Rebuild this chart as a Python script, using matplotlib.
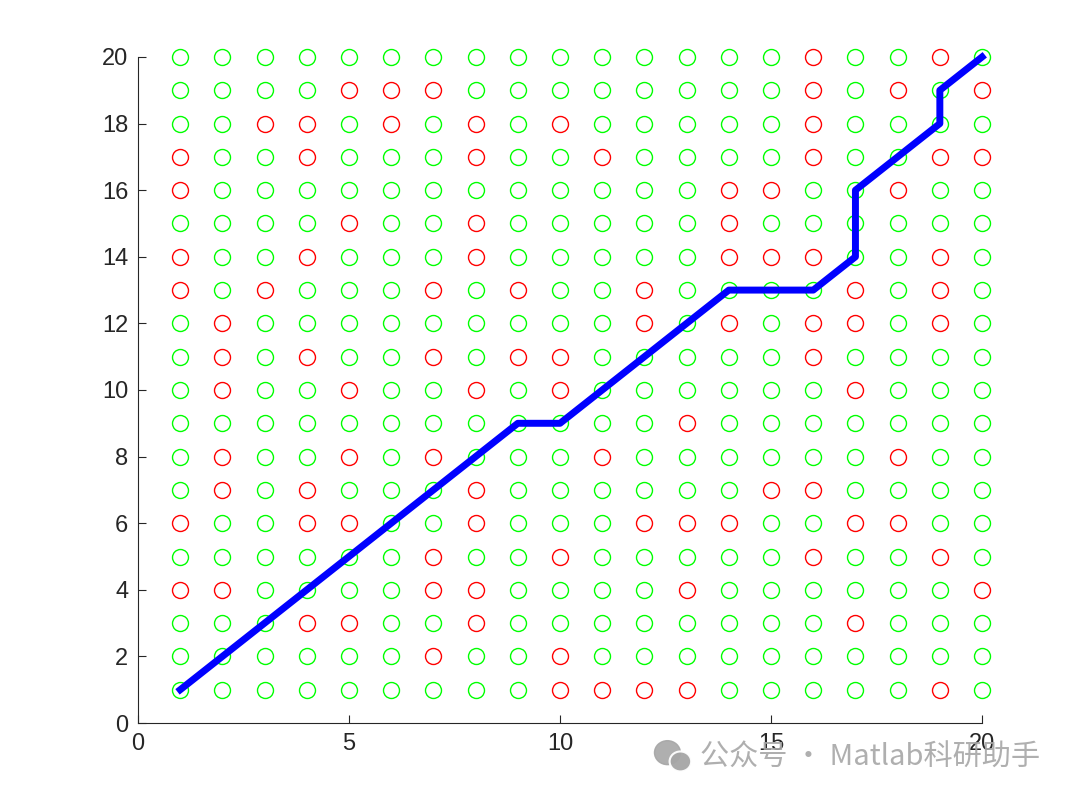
import numpy as np
import matplotlib
matplotlib.use("Agg")
import matplotlib.pyplot as plt
from matplotlib.patches import Ellipse

plt.rcParams['font.family'] = ['Liberation Sans', 'DejaVu Sans']

n = 20
# red (blocked) cells: x positions listed per row y
red_by_row = {
    20: [16, 19],
    19: [5, 6, 7, 16, 18, 20],
    18: [3, 4, 6, 8, 10, 16],
    17: [1, 4, 8, 11, 16, 19, 20],
    16: [1, 14, 15, 18],
    15: [5, 8, 14],
    14: [1, 4, 8, 14, 15, 16, 19],
    13: [1, 3, 7, 9, 12, 17, 19],
    12: [2, 12, 14, 16, 17, 19],
    11: [2, 4, 7, 9, 10, 16],
    10: [2, 5, 8, 10, 17],
    9: [13],
    8: [2, 5, 7, 11, 18],
    7: [2, 4, 8, 15, 16],
    6: [1, 4, 5, 8, 12, 13, 14, 17, 18],
    5: [7, 10, 16, 19],
    4: [1, 2, 7, 8, 13, 20],
    3: [4, 5, 8, 17],
    2: [7, 10],
    1: [10, 11, 12, 13, 19],
}

# path found
path_x = [1, 2, 3, 4, 5, 6, 7, 8, 9, 10, 11, 12, 13, 14, 15, 16, 17, 17, 17, 18, 19, 19, 20]
path_y = [1, 2, 3, 4, 5, 6, 7, 8, 9, 9, 10, 11, 12, 13, 13, 13, 14, 15, 16, 17, 18, 19, 20]

blocked = np.zeros((n, n), dtype=bool)
for y, xs in red_by_row.items():
    for x in xs:
        blocked[y - 1, x - 1] = True
gx, gy = np.meshgrid(np.arange(1, n + 1), np.arange(1, n + 1))

fig = plt.figure(figsize=(10.8, 7.99), dpi=100)
ax = fig.add_axes([0.1278, 0.0951, 0.7815, 0.8336])

ax.plot(gx[~blocked], gy[~blocked], 'o', ls='none', ms=11.5, mfc='none',
        mec=(0, 1, 0), mew=1.0, clip_on=False)
ax.plot(gx[blocked], gy[blocked], 'o', ls='none', ms=11.5, mfc='none',
        mec=(1, 0, 0), mew=1.0, clip_on=False)
ax.plot(path_x, path_y, color=(0, 0, 1), lw=5, clip_on=False)

ax.set_xlim(0, 20)
ax.set_ylim(0, 20)
ax.set_xticks([0, 5, 10, 15, 20])
ax.set_yticks(np.arange(0, 21, 2))
for s in ['top', 'right']:
    ax.spines[s].set_visible(False)
for s in ['left', 'bottom']:
    ax.spines[s].set_color('#262626')
    ax.spines[s].set_linewidth(0.8)
ax.tick_params(direction='in', length=6, width=0.8, color='#262626',
               labelcolor='#262626', labelsize=17, pad=7)

# watermark
fig.text(0.648, 0.052, '公众号 · Matlab科研助手', fontsize=21, color='#a6a6a6',
         alpha=0.9, family=['Noto Sans CJK SC', 'DejaVu Sans'], va='center')
fig.patches.append(Ellipse((0.618, 0.058), 0.024, 0.03, transform=fig.transFigure,
                           color='#a6a6a6', alpha=0.9))
fig.patches.append(Ellipse((0.630, 0.047), 0.02, 0.025, transform=fig.transFigure,
                           color='#a6a6a6', ec='white', lw=1.5, alpha=0.95))

plt.savefig('out.png', dpi=100)
